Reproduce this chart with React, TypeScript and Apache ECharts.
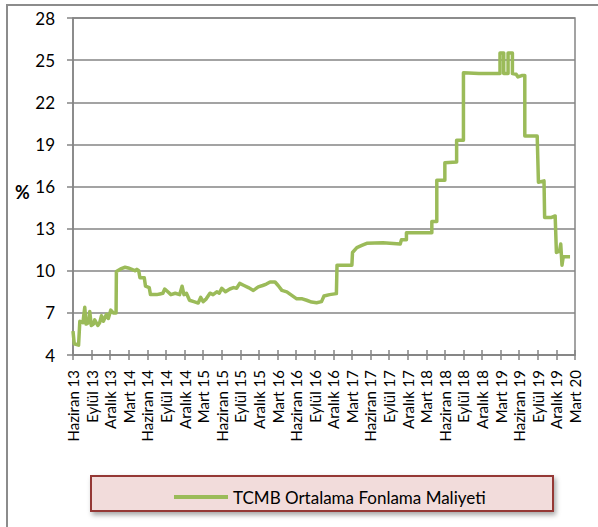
import React, { useEffect, useRef } from "react";
import * as echarts from "echarts";

// Quarterly tick labels (one every 3 months, starting June 2013)
const quarterLabels = [
  "Haziran 13", "Eylül 13", "Aralık 13",
  "Mart 14", "Haziran 14", "Eylül 14", "Aralık 14",
  "Mart 15", "Haziran 15", "Eylül 15", "Aralık 15",
  "Mart 16", "Haziran 16", "Eylül 16", "Aralık 16",
  "Mart 17", "Haziran 17", "Eylül 17", "Aralık 17",
  "Mart 18", "Haziran 18", "Eylül 18", "Aralık 18",
  "Mart 19", "Haziran 19", "Eylül 19", "Aralık 19",
  "Mart 20",
];

// Months elapsed since June 2013 (x position)
const monthOffsets = [
  0, 0.2, 0.9, 1.1, 1.6, 1.9, 2.1, 2.5, 2.7, 2.95, 3.3, 3.5, 4.0, 4.3, 4.6, 4.9, 5.4, 5.7, 6.1, 6.5, 6.95,
  7.0, 7.8, 8.4, 8.9, 9.5, 10.0, 10.3, 10.6, 10.8, 11.5, 11.7, 12.3, 12.5, 13.5, 14.0, 14.5, 14.8, 15.3,
  15.8, 16.5, 17.2, 17.6, 17.9, 18.3, 18.8, 19.5, 20.2, 20.6,
  21.0, 21.5, 22.1, 22.6, 23.2, 23.6, 24.0, 24.6, 25.3, 25.9, 26.4, 26.9, 27.6, 28.3, 29.1, 29.9, 30.6,
  31.2, 31.8, 32.6, 33.1, 33.7, 34.5, 35.3, 36.1, 37.0, 37.7, 38.5, 39.3, 40.1, 40.5, 41.4, 42.5,
  42.6, 45.0, 45.1, 45.8, 46.6, 47.4, 50.0, 52.8, 53.0, 53.8, 53.8, 57.9, 57.9, 58.7, 58.7, 60.0, 60.0,
  61.9, 61.9, 63.0, 63.0, 65.5, 68.9, 68.9, 69.5, 69.5, 70.2, 70.2, 70.9, 70.9, 71.5, 71.8, 72.4, 72.9,
  72.9, 74.9, 75.1, 76.0, 76.1, 77.2, 77.8, 78.0, 78.5, 78.7, 78.9, 79.1, 80.2,
];

// TCMB weighted average funding cost (%)
const fundingCost = [
  5.7, 4.8, 4.7, 6.4, 6.3, 7.4, 6.2, 6.3, 7.1, 6.1, 6.2, 6.5, 6.1, 6.3, 6.8, 6.4, 6.9, 6.6, 7.2, 7.0, 7.0,
  9.95, 10.15, 10.25, 10.2, 10.1, 10.0, 10.1, 10.0, 9.5, 9.5, 8.9, 8.8, 8.3, 8.3, 8.35, 8.4, 8.7, 8.5,
  8.3, 8.4, 8.3, 8.9, 8.3, 8.4, 7.9, 7.8, 7.7, 8.1,
  7.8, 8.0, 8.4, 8.3, 8.5, 8.4, 8.75, 8.5, 8.7, 8.8, 8.75, 9.1, 8.95, 8.8, 8.6, 8.85, 8.95,
  9.05, 9.2, 9.2, 8.95, 8.6, 8.5, 8.25, 8.0, 8.0, 7.9, 7.77, 7.72, 7.8, 8.2, 8.3, 8.37,
  10.4, 10.4, 11.3, 11.65, 11.8, 11.95, 12.0, 11.9, 12.2, 12.2, 12.7, 12.7, 13.5, 13.5, 16.45, 16.45, 17.7,
  17.75, 19.3, 19.3, 24.1, 24.05, 24.05, 25.5, 25.5, 24.05, 24.05, 25.5, 25.5, 24.05, 24.0, 23.8, 23.9, 23.9,
  19.6, 19.6, 16.3, 16.4, 13.8, 13.8, 13.9, 11.3, 11.4, 11.9, 10.4, 11.0, 11.0,
];

const seriesName = "TCMB Ortalama Fonlama Maliyeti";
const yMin = 4;
const yMax = 28;

export default function App() {
  const ref = useRef<HTMLDivElement>(null);

  useEffect(() => {
    if (!ref.current) return;
    const chart = echarts.init(ref.current, null, { renderer: "svg" });
    const data = monthOffsets.map((m, i) => [m, fundingCost[i] - yMin]);
    const gridColor = "#858585";
    const xCommon = {
      type: "value" as const,
      min: 0,
      max: (quarterLabels.length - 1) * 3,
      interval: 3,
      splitLine: { show: false },
    };
    chart.setOption({
      animation: false,
      backgroundColor: "#ffffff",
      grid: {
        left: 73,
        right: 23,
        top: 18,
        bottom: 172,
        show: true,
        borderColor: gridColor,
        borderWidth: 1.5,
      },
      xAxis: [
        {
          ...xCommon,
          position: "bottom",
          axisLine: { show: true, onZero: false, lineStyle: { color: gridColor, width: 1.5 } },
          axisTick: { show: true, inside: false, length: 5, lineStyle: { color: gridColor, width: 1.5 } },
          axisLabel: {
            rotate: 90,
            margin: 15,
            fontFamily: "Lato",
            fontSize: 15,
            color: "#000000",
            showMinLabel: true,
            showMaxLabel: true,
            formatter: (v: number) => quarterLabels[Math.round(v / 3)] ?? "",
          },
        },
        {
          ...xCommon,
          position: "bottom",
          axisLine: { show: false, onZero: false },
          axisTick: { show: true, inside: true, length: 5, lineStyle: { color: gridColor, width: 1.5 } },
          axisLabel: { show: false },
        },
      ],
      yAxis: {
        type: "value",
        min: 0,
        max: yMax - yMin,
        interval: 3,
        axisLine: { show: true, lineStyle: { color: gridColor, width: 1.5 } },
        axisTick: { show: true, length: 6, lineStyle: { color: gridColor, width: 1.5 } },
        splitLine: { show: true, lineStyle: { color: gridColor, width: 1.5 } },
        axisLabel: {
          margin: 18,
          fontFamily: "Lato",
          fontSize: 17,
          color: "#000000",
          formatter: (v: number) => String(v + yMin),
        },
      },
      legend: {
        left: 169,
        top: 481,
        icon: "rect",
        itemWidth: 54,
        itemHeight: 4,
        data: [seriesName],
        textStyle: { fontFamily: "Lato", fontSize: 17, color: "#000000", lineHeight: 22 },
      },
      graphic: [
        {
          type: "rect",
          z: -10,
          silent: true,
          shape: { x: 7, y: 5, width: 620, height: 540 },
          style: { fill: "none", stroke: "#8c8c8c", lineWidth: 2 },
        },
        {
          type: "rect",
          z: 0,
          silent: true,
          shape: { x: 91, y: 476, width: 462, height: 35 },
          style: {
            fill: "#f2dcdb",
            stroke: "#953735",
            lineWidth: 2,
            shadowBlur: 5,
            shadowOffsetX: 2,
            shadowOffsetY: 3,
            shadowColor: "rgba(0,0,0,0.35)",
          },
        },
        {
          type: "text",
          left: 15,
          top: 183,
          style: { text: "%", fontFamily: "Lato", fontSize: 18, fontWeight: "bold", fill: "#000000" },
        },
      ],
      series: [
        {
          name: seriesName,
          type: "line",
          xAxisIndex: 0,
          data,
          showSymbol: false,
          symbol: "none",
          lineStyle: { color: "#9bbb59", width: 3.5, join: "round" },
          itemStyle: { color: "#9bbb59" },
        },
      ],
    });
    return () => chart.dispose();
  }, []);

  return (
    <div
      ref={ref}
      style={{ position: "fixed", left: 0, top: 0, width: 598, height: 527 }}
    />
  );
}
